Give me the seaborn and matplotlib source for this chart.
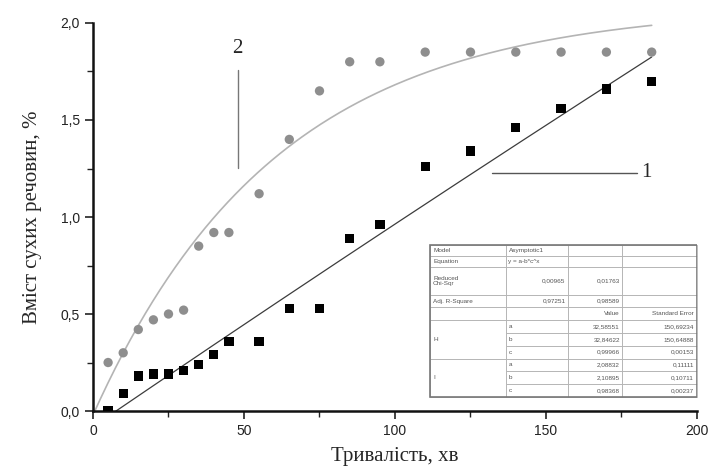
import numpy as np
import pandas as pd
import matplotlib
matplotlib.use("Agg")
import matplotlib.pyplot as plt
import seaborn as sns
from matplotlib.ticker import MultipleLocator, FixedLocator, FixedFormatter

# --- data ---
time_1 = [5, 10, 15, 20, 25, 30, 35, 40, 45, 55, 65, 75, 85, 95, 110, 125, 140, 155, 170, 185]
dry_1 = [0.0, 0.09, 0.18, 0.19, 0.19, 0.21, 0.24, 0.29, 0.36, 0.36, 0.53, 0.53, 0.89, 0.96,
         1.26, 1.34, 1.46, 1.56, 1.66, 1.70]

time_2 = [5, 10, 15, 20, 25, 30, 35, 40, 45, 55, 65, 75, 85, 95, 110, 125, 140, 155, 170, 185]
dry_2 = [0.25, 0.30, 0.42, 0.47, 0.50, 0.52, 0.85, 0.92, 0.92, 1.12, 1.40, 1.65, 1.80, 1.80,
         1.85, 1.85, 1.85, 1.85, 1.85, 1.85]

# Asymptotic1 fit  y = a - b*c^x
fit_1 = dict(a=32.56551, b=32.64622, c=0.999675)
fit_2 = dict(a=2.08832, b=2.10895, c=0.98368)

x_ticks = [0, 50, 100, 150, 200]
y_ticks = [0.0, 0.5, 1.0, 1.5, 2.0]
y_tick_labels = ["0,0", "0,5", "1,0", "1,5", "2,0"]

# table shown in the plot (as printed)
tbl_rows = [
    ["Model", "Asymptotic1", "", ""],
    ["Equation", "y = a-b*c^x", "", ""],
    ["Reduced\nChi-Sqr", "0,00965", "0,01763", ""],
    ["Adj. R-Square", "0,97251", "0,98589", ""],
    ["", "", "Value", "Standard Error"],
    ["", "a", "32,58551", "150,69234"],
    ["H", "b", "32,84622", "150,64888"],
    ["", "c", "0,99966", "0,00153"],
    ["", "a", "2,08832", "0,11111"],
    ["I", "b", "2,10895", "0,10711"],
    ["", "c", "0,98368", "0,00237"],
]
row_px = [11, 11, 28, 12, 13, 12.8, 12.8, 12.8, 12.8, 12.8, 12.8]
col_px = [76, 62, 54, 75]


def asymptotic(x, a, b, c):
    return a - b * c ** x


xs = np.linspace(0, 185, 300)
curves = pd.concat([
    pd.DataFrame({"x": xs, "y": asymptotic(xs, **fit_1), "s": "1"}),
    pd.DataFrame({"x": xs, "y": asymptotic(xs, **fit_2), "s": "2"}),
])
pts_1 = pd.DataFrame({"x": time_1, "y": dry_1})
pts_2 = pd.DataFrame({"x": time_2, "y": dry_2})

sns.set_style("ticks")
plt.rcParams["font.family"] = ["Liberation Sans", "DejaVu Sans"]

fig = plt.figure(figsize=(7.17, 4.75), dpi=100)
ax = fig.add_axes([0.1297, 0.1347, 0.8424, 0.8169])

sns.lineplot(data=curves[curves.s == "2"], x="x", y="y", color="#b4b4b4", lw=1.2, ax=ax)
sns.lineplot(data=curves[curves.s == "1"], x="x", y="y", color="#3c3c3c", lw=0.9, ax=ax)
sns.scatterplot(data=pts_2, x="x", y="y", color="#8e8e8e", s=45, marker="o", edgecolor="none", ax=ax, zorder=3)
sns.scatterplot(data=pts_1, x="x", y="y", color="black", s=45, marker="s", edgecolor="none", ax=ax, zorder=3)

ax.set_xlim(0, 200)
ax.set_ylim(0, 2.0)
ax.xaxis.set_major_locator(FixedLocator(x_ticks))
ax.yaxis.set_major_locator(FixedLocator(y_ticks))
ax.yaxis.set_major_formatter(FixedFormatter(y_tick_labels))
ax.xaxis.set_minor_locator(MultipleLocator(25))
ax.yaxis.set_minor_locator(MultipleLocator(0.25))
ax.tick_params(which="major", length=6, width=1.2, labelsize=10, colors="#222222", direction="out")
ax.tick_params(which="minor", length=4, width=1.0, direction="out", colors="#222222")
for sp in ["top", "right"]:
    ax.spines[sp].set_visible(False)
for sp in ["left", "bottom"]:
    ax.spines[sp].set_linewidth(1.8)
    ax.spines[sp].set_color("#111111")

ax.set_xlabel("Тривалість, хв", family=["Liberation Serif"], fontsize=15, labelpad=6)
ax.set_ylabel("Вміст сухих речовин, %", family=["Liberation Serif"], fontsize=15, labelpad=13)

# curve labels
ax.plot([47.9, 47.9], [1.253, 1.758], color="#777777", lw=1.0)
ax.text(47.9, 1.82, "2", family=["Liberation Serif"], fontsize=15, ha="center", va="bottom")
ax.plot([132, 180], [1.227, 1.227], color="#555555", lw=1.0)
ax.text(181.5, 1.227, "1", family=["Liberation Serif"], fontsize=15, ha="left", va="center")

# fit table
t_left, t_bottom, t_w, t_h = 0.558, 0.036, 0.442, 0.392
tbl = ax.table(cellText=tbl_rows, bbox=[t_left, t_bottom, t_w, t_h], cellLoc="left")
tbl.auto_set_font_size(False)
tbl.set_fontsize(4.6)
tot_r, tot_c = sum(row_px), sum(col_px)
for (r, c), cell in tbl.get_celld().items():
    cell.set_height(t_h * row_px[r] / tot_r)
    cell.set_width(t_w * col_px[c] / tot_c)
    cell.set_edgecolor("#b0b0b0")
    cell.set_linewidth(0.6)
    cell.get_text().set_color("#555555")
    cell.PAD = 0.04
    if c >= 2 or (c == 1 and r in (2, 3)):
        cell.get_text().set_ha("right")
        cell._loc = "right"
    if c == 0 and r >= 4:
        top = r in (4, 5, 8)
        bot = r in (4, 7, 10)
        cell.visible_edges = "LR" + ("T" if top else "") + ("B" if bot else "")
ax.add_patch(plt.Rectangle((t_left, t_bottom), t_w, t_h, transform=ax.transAxes,
                           fill=False, edgecolor="#777777", lw=1.2, zorder=5))

fig.savefig("out.png", dpi=100)
